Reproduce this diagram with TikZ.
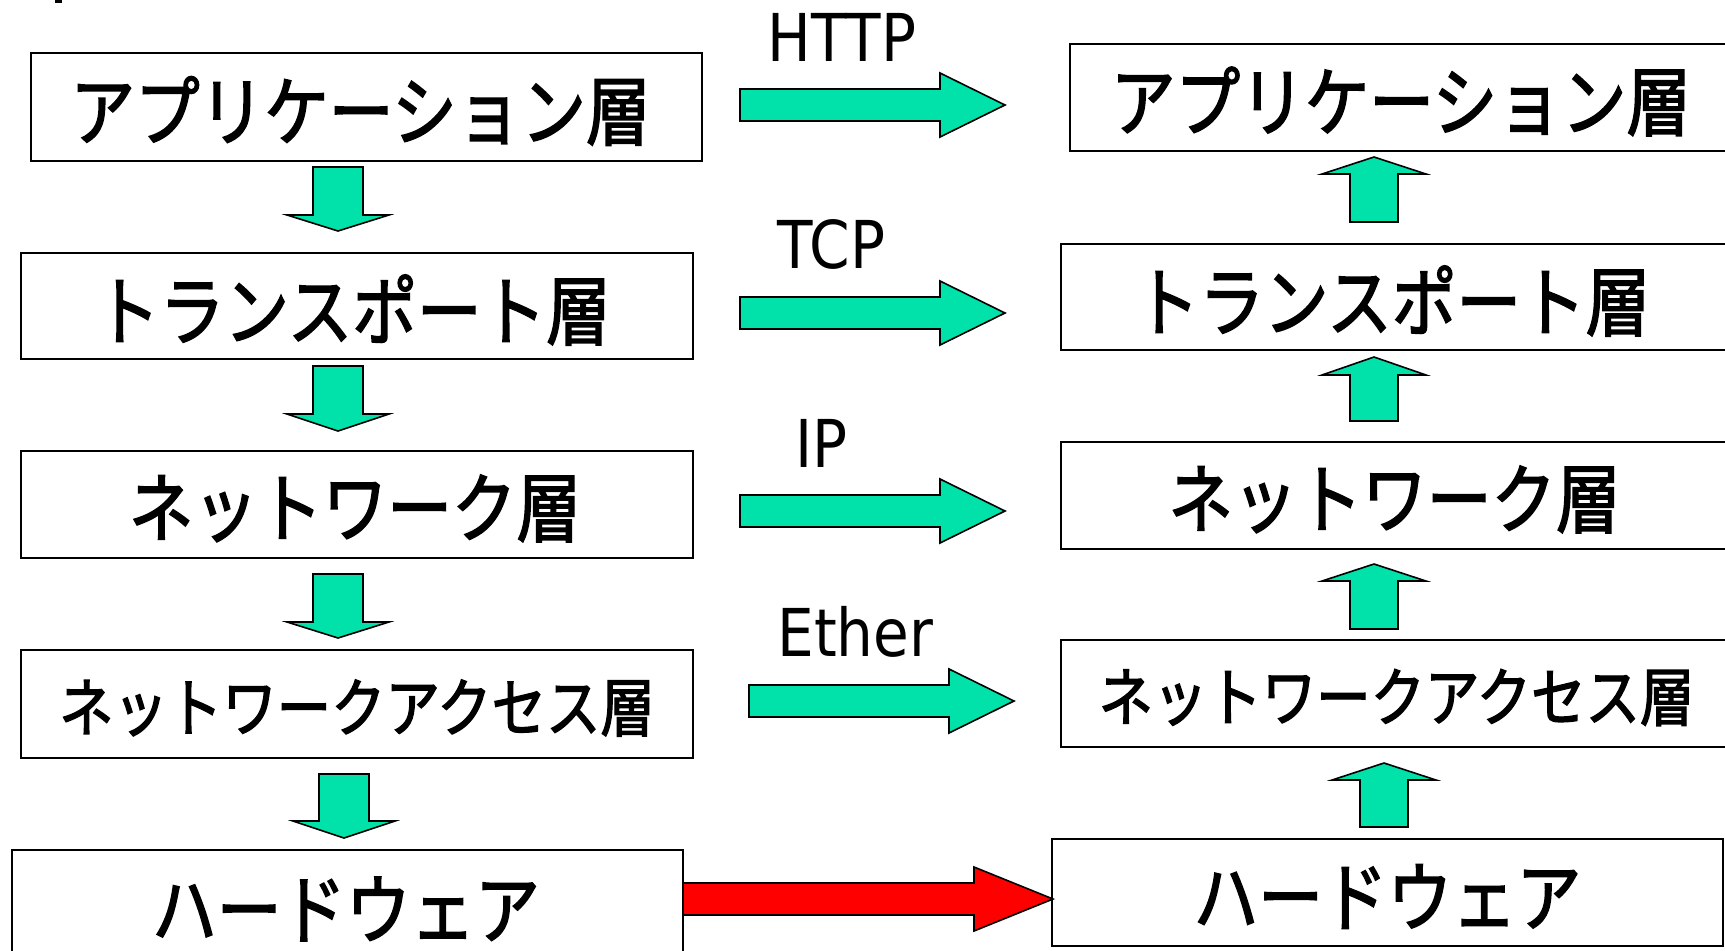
\documentclass[tikz,border=0pt]{standalone}
\usepackage{fontspec}
\usetikzlibrary{fit}
\newfontfamily\jpfont[FakeStretch=0.85,FakeBold=2]{Noto Sans CJK JP}
\newfontfamily\lblfont[FakeStretch=0.88]{DejaVu Sans}
\definecolor{mint}{RGB}{0,226,170}
\definecolor{arrowred}{RGB}{255,0,0}

% block arrow pointing right: style, shaft start x, head base x, tip x, centre y
\newcommand\rblock[5]{%
  \draw[#1] (#2,#5-16) -- (#3,#5-16) -- (#3,#5-32) -- (#4,#5)
    -- (#3,#5+32) -- (#3,#5+16) -- (#2,#5+16) -- cycle;}
% block arrow pointing down: style, centre x, shaft top y, head base y, tip y
\newcommand\dblock[5]{%
  \draw[#1] (#2-25,#3) -- (#2+25,#3) -- (#2+25,#4) -- (#2+51,#4) -- (#2,#5)
    -- (#2-51,#4) -- (#2-25,#4) -- cycle;}
% block arrow pointing up: style, centre x, shaft bottom y, head base y, tip y
\newcommand\ublock[5]{%
  \draw[#1] (#2-24,#3) -- (#2+24,#3) -- (#2+24,#4) -- (#2+52,#4) -- (#2,#5)
    -- (#2-52,#4) -- (#2-24,#4) -- cycle;}

\begin{document}
\begin{tikzpicture}[x=0.5pt,y=-0.5pt,
  layer/.style={draw=black,line width=1pt,fill=white,inner sep=0pt},
  layertext/.style={inner sep=0pt,yshift=-2pt,
    font=\jpfont\fontsize{38pt}{42pt}\selectfont},
  smalllayertext/.style={layertext,font=\jpfont\fontsize{32pt}{36pt}\selectfont},
  flow/.style={draw=black,line width=0.8pt,fill=mint,line join=miter},
  hwflow/.style={draw=black,line width=0.8pt,fill=arrowred,line join=miter},
  proto/.style={anchor=base west,inner sep=0pt,
    font=\lblfont\fontsize{33pt}{35pt}\selectfont}]
\useasboundingbox (0,0) rectangle (1725,950);
\clip (0,0) rectangle (1725,950);
\fill[white] (0,0) rectangle (1725,950);

% stray mark at the top edge
\fill[black] (55,0) rectangle (62,2.5);

% sending stack
\node[layer,fit={(31,53) (702,161)}] (appL) {};
\node[layer,fit={(21,253) (693,359)}] (trL) {};
\node[layer,fit={(21,451) (693,558)}] (netL) {};
\node[layer,fit={(21,650) (693,758)}] (accL) {};
\node[layer,fit={(12,850) (683,962)}] (hwL) {};
\node[layertext] (appLt) at ([xshift=-3pt]appL.center) {アプリケーション層};
\node[layertext] (trLt) at ([xshift=-2pt]trL.center) {トランスポート層};
\node[layertext] (netLt) at ([xshift=-1pt]netL.center) {ネットワーク層};
\node[smalllayertext] (accLt) at (accL.center) {ネットワークアクセス層};
\node[layertext] (hwLt) at (346,905) {ハードウェア};

% receiving stack
\node[layer,fit={(1070,44) (1732,151)}] (appR) {};
\node[layer,fit={(1061,244) (1732,350)}] (trR) {};
\node[layer,fit={(1061,442) (1732,549)}] (netR) {};
\node[layer,fit={(1061,640) (1732,747)}] (accR) {};
\node[layer,fit={(1052,839) (1723,946)}] (hwR) {};
\node[layertext] (appRt) at (appR.center) {アプリケーション層};
\node[layertext] (trRt) at ([xshift=-2pt]trR.center) {トランスポート層};
\node[layertext] (netRt) at ([xshift=-1pt]netR.center) {ネットワーク層};
\node[smalllayertext] (accRt) at (accR.center) {ネットワークアクセス層};
\node[layertext] (hwRt) at (hwR.center) {ハードウェア};

% down the sending stack
\dblock{flow}{338}{167}{215}{231}
\dblock{flow}{338}{366}{414}{431}
\dblock{flow}{338}{574}{622}{638}
\dblock{flow}{344}{774}{821}{838}

% up the receiving stack
\ublock{flow}{1374}{222}{174}{157}
\ublock{flow}{1374}{421}{375}{357}
\ublock{flow}{1374}{629}{581}{564}
\ublock{flow}{1384}{827}{780}{763}

% peer protocols
\rblock{flow}{740}{940}{1005}{105}
\rblock{flow}{740}{940}{1005}{313}
\rblock{flow}{740}{940}{1005}{511}
\rblock{flow}{749}{949}{1014}{701}
\rblock{hwflow}{683}{974}{1053}{899}

\node[proto] (http) at (767,61) {HTTP};
\node[proto] (tcp) at (777,268) {TCP};
\node[proto] (ip) at (795,467) {IP};
\node[proto] (ether) at (777,656) {Ether};
\end{tikzpicture}
\end{document}
